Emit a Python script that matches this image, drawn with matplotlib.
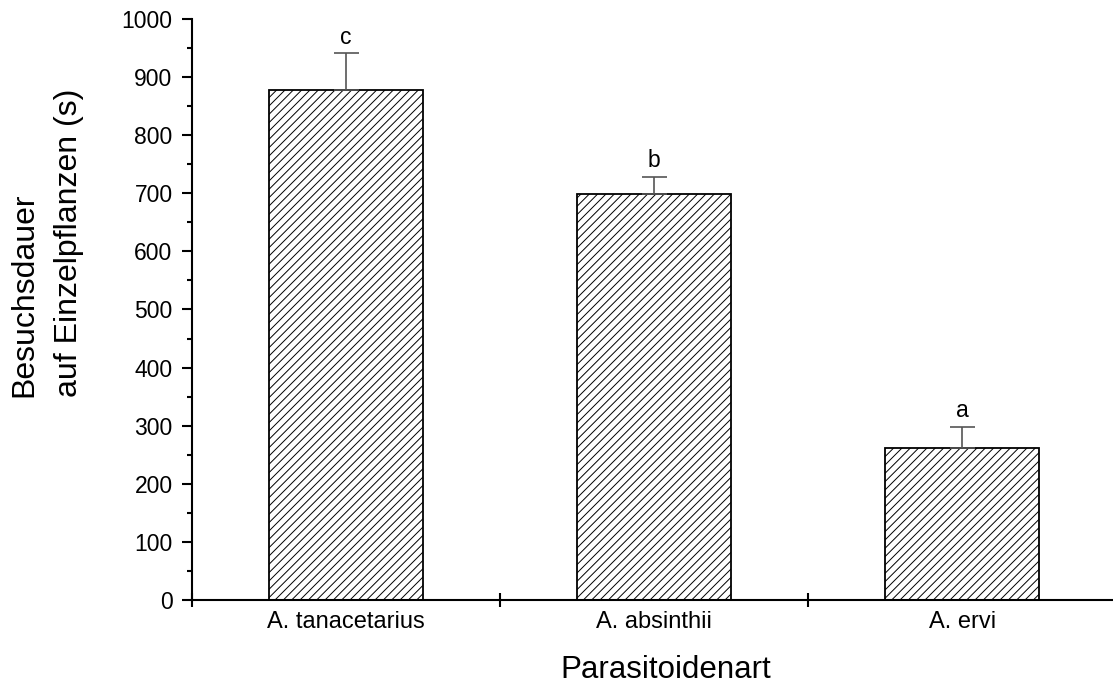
import matplotlib
matplotlib.use("Agg")
import matplotlib.pyplot as plt
import numpy as np
from matplotlib.ticker import MultipleLocator, FixedLocator

categories = ["A. tanacetarius", "A. absinthii", "A. ervi"]
means = [878, 699, 261]
errors = [63, 29, 37]
letters = ["c", "b", "a"]

plt.rcParams['font.family'] = ['Liberation Sans', 'DejaVu Sans']
plt.rcParams['hatch.linewidth'] = 0.7

fig = plt.figure(figsize=(11.13, 6.84), dpi=100)
ax = fig.add_axes([192/1113, 1-600/684, 1-192/1113, (600-19)/684])

x = np.arange(len(categories))
ax.bar(x, means, width=0.5, facecolor='white', edgecolor='black',
       linewidth=1.3, hatch='////', zorder=2)
ax.errorbar(x, means, yerr=[np.zeros(len(errors)), errors], fmt='none',
            ecolor='#555555', elinewidth=1.2, capsize=9, capthick=1.2, zorder=3)
for xi, m, e, l in zip(x, means, errors, letters):
    ax.annotate(l, (xi, m + e), xytext=(0, 7), textcoords='offset points',
                ha='center', va='baseline', fontsize=16.5)

ax.set_xlim(-0.5, 2.49)
ax.set_ylim(0, 1000)
for s in ['top', 'right']:
    ax.spines[s].set_visible(False)
for s in ['left', 'bottom']:
    ax.spines[s].set_linewidth(1.5)

ax.yaxis.set_major_locator(MultipleLocator(100))
ax.yaxis.set_minor_locator(MultipleLocator(50))
ax.tick_params(axis='y', which='major', direction='out', length=7, width=1.5,
               labelsize=16.5, pad=7)
ax.tick_params(axis='y', which='minor', direction='out', length=3.5, width=1.5)

ax.xaxis.set_major_locator(FixedLocator([-0.5, 0.5, 1.5]))
ax.xaxis.set_minor_locator(FixedLocator(x))
ax.set_xticklabels([], minor=False)
ax.set_xticklabels(categories, minor=True)
ax.tick_params(axis='x', which='major', direction='inout', length=10, width=1.5)
ax.tick_params(axis='x', which='minor', length=0, labelsize=17, pad=8)

ax.set_ylabel("Besuchsdauer\nauf Einzelpflanzen (s)", fontsize=23,
              multialignment='left', linespacing=1.62)
ax.yaxis.set_label_coords((84-192)/921, (600-243)/581)
ax.set_xlabel("Parasitoidenart", fontsize=22.5)
ax.xaxis.set_label_coords((666-192)/921, (600-655)/581)

fig.savefig("out.png", dpi=100)
